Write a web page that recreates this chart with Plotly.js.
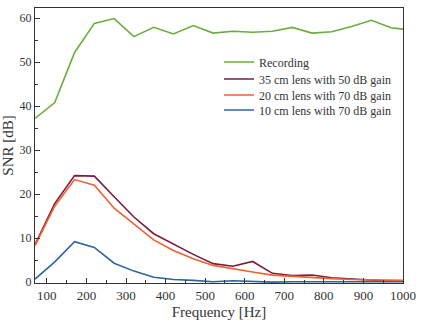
<!DOCTYPE html>
<html>
<head>
<meta charset="utf-8">
<script src="https://cdn.plot.ly/plotly-3.0.1.min.js"></script>
<style>html,body{margin:0;padding:0;background:#fff;}#chart{width:423px;height:323px;}</style>
</head>
<body>
<div id="chart"></div>
<script>
const freq = [70,120,170,220,270,320,370,420,470,520,570,620,670,720,770,820,870,920,970,1000];
const recording = [37.2,40.8,52.2,58.8,59.9,55.8,57.9,56.4,58.3,56.6,57.0,56.8,57.0,57.9,56.6,56.9,58.1,59.5,57.8,57.5];
const lens35_50 = [8.5,17.9,24.2,24.1,19.4,14.8,11.0,8.7,6.3,4.2,3.6,4.7,2.0,1.5,1.6,1.0,0.7,0.4,0.2,0.2];
const lens20_70 = [8.3,17.3,23.3,22.0,16.8,13.2,9.6,7.2,5.3,3.8,3.0,2.3,1.6,1.3,1.0,0.8,0.6,0.5,0.4,0.4];
const lens10_70 = [0.7,4.6,9.2,7.9,4.3,2.5,1.1,0.6,0.4,0.1,0.3,0.2,0.0,0.1,0.1,0.1,0.1,0.1,0.1,0.1];
const names = ["Recording","35 cm lens with 50 dB gain","20 cm lens with 70 dB gain","10 cm lens with 70 dB gain"];
const colors = ["#6aad3d","#7a1c3e","#f26030","#2e64a0"];
const series = [recording, lens35_50, lens20_70, lens10_70];
const legendIds = ['legend','legend2','legend3','legend4'];
const legendY = [0.8036, 0.7418, 0.6836, 0.629];

const FONT = 'Liberation Serif, Times New Roman, serif';

const traces = series.map((s,i)=>({
  x: freq, y: s, type:'scatter', mode:'lines', name: names[i],
  legend: legendIds[i],
  line:{color:colors[i], width:1.6}
}));

const layout = {
  width:423, height:323,
  margin:{l:35, r:20, t:8, b:40},
  paper_bgcolor:'#fff', plot_bgcolor:'#fff',
  font:{family:FONT, color:'#333', size:12},
  showlegend:true,
  xaxis:{
    range:[70,1000], tickvals:[100,200,300,400,500,600,700,800,900,1000],
    ticks:'inside', ticklen:5, tickwidth:1, tickcolor:'#333',
    minor:{tickvals:[150,250,350,450,550,650,750,850,950], ticks:'inside', ticklen:3, tickcolor:'#333'},
    showline:true, linecolor:'#333', linewidth:1, mirror:true,
    showgrid:false, zeroline:false,
    tickfont:{family:FONT, size:13, color:'#333'},
    title:{text:'Frequency [Hz]', font:{family:FONT, size:15, color:'#333'}, standoff:4}
  },
  yaxis:{
    range:[-0.2,62.3], tickvals:[0,10,20,30,40,50,60],
    ticks:'inside', ticklen:5, tickwidth:1, tickcolor:'#333',
    minor:{tickvals:[5,15,25,35,45,55], ticks:'inside', ticklen:3, tickcolor:'#333'},
    showline:true, linecolor:'#333', linewidth:1, mirror:true,
    showgrid:false, zeroline:false,
    tickfont:{family:FONT, size:12, color:'#333'},
    title:{text:'SNR [dB]', font:{family:FONT, size:15, color:'#333'}, standoff:3}
  }
};
legendIds.forEach((id,i)=>{
  layout[id] = {x:0.5, y:legendY[i], xanchor:'left', yanchor:'middle',
    bgcolor:'rgba(0,0,0,0)', font:{family:FONT, size:12, color:'#333'}};
});
Plotly.newPlot('chart', traces, layout, {displayModeBar:false, staticPlot:true});
</script>
</body>
</html>
